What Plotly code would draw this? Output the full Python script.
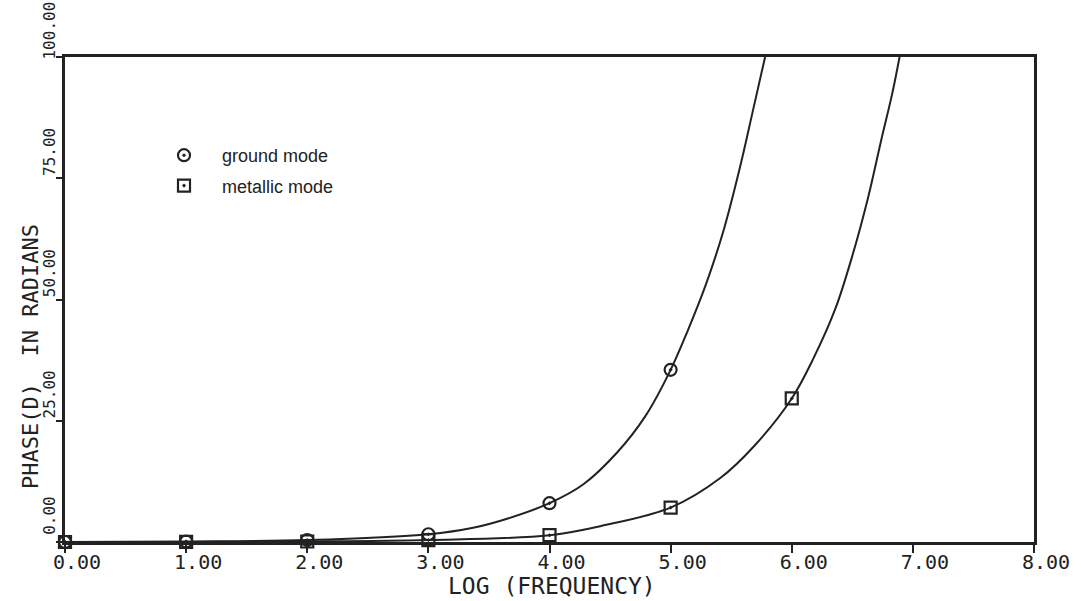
import plotly.graph_objects as go

# ---- data ----
ground_curve_x = [0.0, 1.0, 2.0, 3.0, 3.38, 3.65, 4.0, 4.28, 4.56, 4.79, 5.0, 5.14, 5.29, 5.44, 5.57, 5.68, 5.78]
ground_curve_y = [0.0, 0.1, 0.4, 1.6, 3.0, 4.8, 8.0, 11.9, 18.5, 25.9, 35.5, 43.5, 53.0, 64.5, 77.0, 89.0, 100.0]

metallic_curve_x = [0.0, 1.0, 2.0, 3.0, 4.0, 4.46, 5.0, 5.41, 5.69, 6.0, 6.18, 6.36, 6.5, 6.63, 6.74, 6.83, 6.89]
metallic_curve_y = [0.0, 0.02, 0.1, 0.4, 1.4, 3.5, 7.1, 13.2, 19.8, 29.6, 37.9, 48.1, 59.0, 71.0, 83.0, 92.5, 100.0]

ground_pts_x = [0, 1, 2, 3, 4, 5]
ground_pts_y = [0.0, 0.1, 0.4, 1.6, 8.0, 35.5]

metallic_pts_x = [0, 1, 2, 3, 4, 5, 6]
metallic_pts_y = [0.0, 0.02, 0.1, 0.4, 1.4, 7.1, 29.6]

x_ticks = [0, 1, 2, 3, 4, 5, 6, 7, 8]
x_tick_labels = ["0.00", "1.00", "2.00", "3.00", "4.00", "5.00", "6.00", "7.00", "8.00"]
y_ticks = [0, 25, 50, 75, 100]
y_tick_labels = ["0.00", "25.00", "50.00", "75.00", "100.00"]

INK = "#222222"
MONO = "DejaVu Sans Mono"

fig = go.Figure()

fig.add_trace(go.Scatter(x=ground_curve_x, y=ground_curve_y, mode="lines",
                         line=dict(color=INK, width=2, shape="spline", smoothing=1.0),
                         showlegend=False, hoverinfo="skip", cliponaxis=True))
fig.add_trace(go.Scatter(x=metallic_curve_x, y=metallic_curve_y, mode="lines",
                         line=dict(color=INK, width=2, shape="spline", smoothing=1.0),
                         showlegend=False, hoverinfo="skip", cliponaxis=True))

fig.add_trace(go.Scatter(x=ground_pts_x, y=ground_pts_y, mode="markers", name="ground mode",
                         legendgroup="g",
                         marker=dict(symbol="circle-open-dot", size=12, color=INK,
                                     line=dict(width=2.2, color=INK)),
                         cliponaxis=False))
fig.add_trace(go.Scatter(x=metallic_pts_x, y=metallic_pts_y, mode="markers", name="metallic mode",
                         legendgroup="m",
                         marker=dict(symbol="square-open-dot", size=12, color=INK,
                                     line=dict(width=2.2, color=INK)),
                         cliponaxis=False))

fig.update_layout(
    width=1086, height=601,
    margin=dict(l=65, r=52, t=57, b=59, autoexpand=False),
    paper_bgcolor="white", plot_bgcolor="white",
    showlegend=True,
    legend=dict(x=(146 - 65) / 969, xanchor="left", y=1 - (137 - 57) / 485, yanchor="top",
                font=dict(family="Liberation Sans", size=18, color=INK),
                bgcolor="rgba(0,0,0,0)", itemwidth=66, tracegroupgap=4,
                traceorder="grouped"),
    xaxis=dict(range=[0, 8], tickvals=x_ticks, ticktext=x_tick_labels, automargin=False,
               showgrid=False, zeroline=False, showline=True, linecolor=INK, linewidth=2.5,
               mirror=True, ticks="outside", ticklen=8, tickwidth=2, tickcolor=INK,
               ticklabelshift=12, ticklabelstandoff=-8,
               tickfont=dict(family=MONO, size=20, color=INK)),
    yaxis=dict(range=[0, 100], tickvals=y_ticks, ticktext=y_tick_labels, automargin=False,
               showgrid=False, zeroline=False, showline=True, linecolor=INK, linewidth=2.5,
               mirror=True, ticks="outside", ticklen=6, tickwidth=2, tickcolor=INK,
               tickangle=-90, ticklabelshift=-24, ticklabelstandoff=-5,
               ticklabeloverflow="allow",
               tickfont=dict(family=MONO, size=16, color=INK)),
    annotations=[
        dict(text="PHASE(D)  IN RADIANS", xref="paper", yref="paper",
             x=(30 - 65) / 969, y=1 - (357 - 57) / 485,
             xanchor="center", yanchor="middle", textangle=-90, showarrow=False,
             font=dict(family=MONO, size=22, color=INK)),
        dict(text="LOG (FREQUENCY)", xref="paper", yref="paper",
             x=(552 - 65) / 969, y=1 - (586 - 57) / 485,
             xanchor="center", yanchor="middle", showarrow=False,
             font=dict(family=MONO, size=23, color=INK)),
    ],
)

fig.write_html("out.html")
